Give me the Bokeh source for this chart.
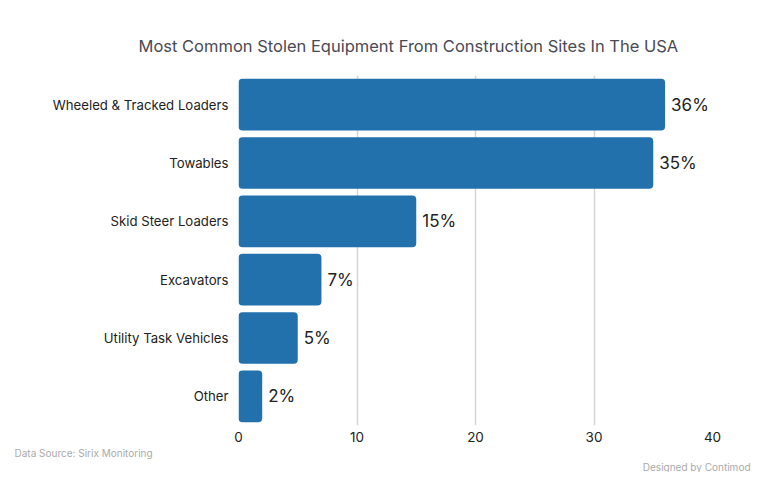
from bokeh.plotting import figure
from bokeh.models import ColumnDataSource, Title, FactorRange, Range1d, LabelSet, FixedTicker
from bokeh.core.properties import value
from bokeh.embed import file_html
from bokeh.resources import INLINE

categories = ["Wheeled & Tracked Loaders", "Towables", "Skid Steer Loaders",
              "Excavators", "Utility Task Vehicles", "Other"]
values = [36, 35, 15, 7, 5, 2]
value_labels = ["36%", "35%", "15%", "7%", "5%", "2%"]
x_ticks = [0, 10, 20, 30, 40]

FONT = "Inter"
BAR = "#2271ad"

src = ColumnDataSource(dict(cat=categories, val=values, lab=value_labels))

p = figure(width=752, height=472, output_backend="svg", toolbar_location=None,
           y_range=FactorRange(*reversed(categories)), x_range=Range1d(0, 40),
           min_border_left=238, min_border_right=40, min_border_top=75, min_border_bottom=10)

p.hbar(y="cat", right="val", height=0.886, source=src, color=BAR, line_color=None,
       border_radius=4)

labels = LabelSet(x="val", y="cat", text="lab", source=src, x_offset=6,
                  text_baseline="middle", text_font=value(FONT), text_font_size="17px",
                  text_color="#222222")
p.add_layout(labels)

p.title.text = "Most Common Stolen Equipment From Construction Sites In The USA"
p.title.text_font = FONT
p.title.text_font_size = "16.5px"
p.title.text_font_style = "normal"
p.title.text_color = "#4a4a55"
p.title.align = "left"
p.title.offset = -100
p.title.standoff = 40

p.add_layout(Title(text="Data Source: Sirix Monitoring", align="left", offset=-224,
                   text_font=FONT, text_font_size="10px", text_font_style="normal",
                   text_color="#aaaaaa", standoff=0), "below")
p.add_layout(Title(text="Designed by Contimod", align="right", offset=-38,
                   text_font=FONT, text_font_size="10px", text_font_style="normal",
                   text_color="#aaaaaa", standoff=0), "below")

p.xaxis.ticker = FixedTicker(ticks=x_ticks)
p.xaxis.axis_line_color = None
p.xaxis.major_tick_line_color = None
p.xaxis.major_tick_out = 0
p.xaxis.minor_tick_line_color = None
p.xaxis.major_label_text_font = FONT
p.xaxis.major_label_text_font_size = "13.5px"
p.xaxis.major_label_text_color = "#222222"
p.xaxis.major_label_standoff = 6

p.yaxis.axis_line_color = None
p.yaxis.major_tick_line_color = None
p.yaxis.major_tick_out = 0
p.yaxis.major_label_text_font = FONT
p.yaxis.major_label_text_font_size = "13.2px"
p.yaxis.major_label_text_color = "#222222"
p.yaxis.major_label_standoff = 10

p.ygrid.grid_line_color = None
p.xgrid.grid_line_color = "#d4d4d4"
p.xgrid.grid_line_width = 1.5
p.outline_line_color = None

open("out.html", "w").write(file_html(p, INLINE))
